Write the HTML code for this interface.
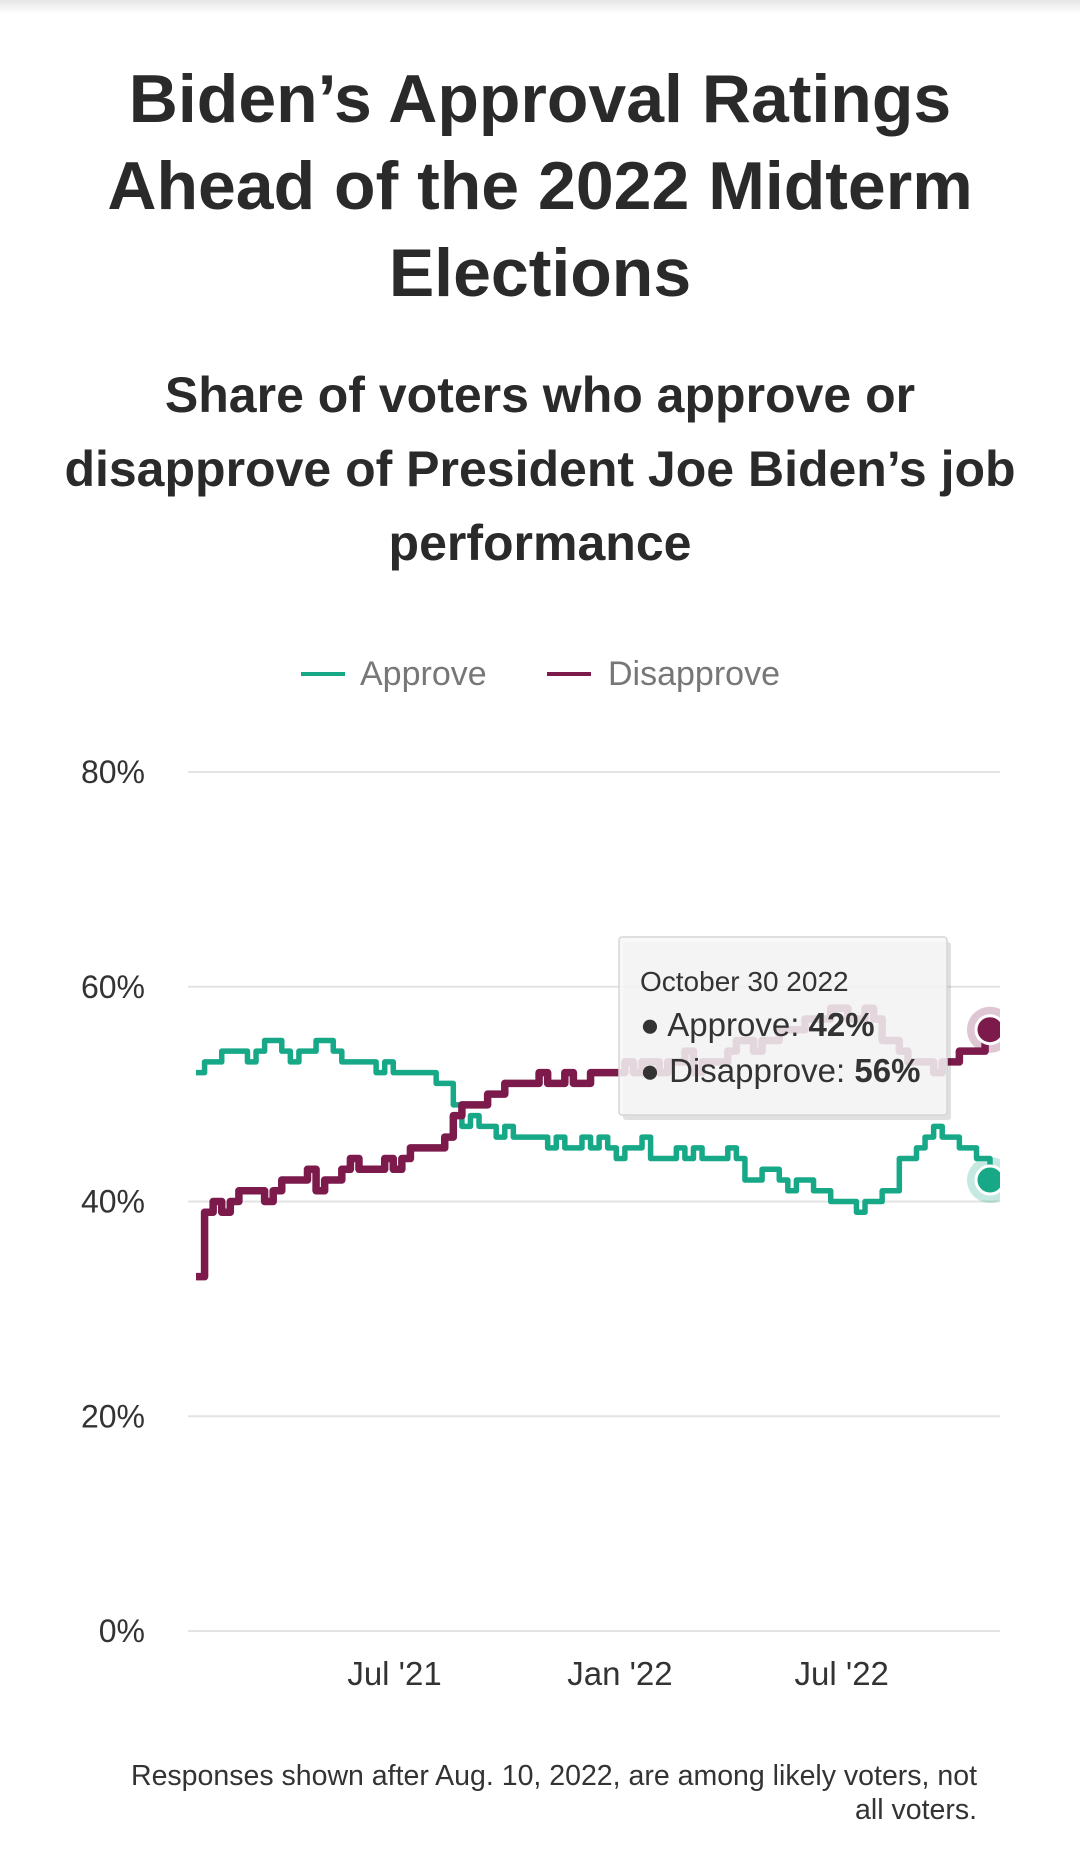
<!DOCTYPE html>
<html><head><meta charset="utf-8">
<style>
html,body{margin:0;padding:0;background:#fff;}
body{width:1080px;height:1853px;position:relative;overflow:hidden;font-family:"Liberation Sans",sans-serif;color:#2a2a2a;}
.topshade{position:absolute;left:0;top:0;width:1080px;height:14px;background:linear-gradient(#e6e6e6,#fff);}
h1{position:absolute;left:0;top:56px;width:1080px;margin:0;text-align:center;font-size:68px;line-height:87px;font-weight:bold;}
h2{position:absolute;left:0;top:358px;width:1080px;margin:0;text-align:center;font-size:50px;line-height:74px;font-weight:bold;}
.foot{position:absolute;right:103px;top:1759px;text-align:right;font-size:28.5px;line-height:34px;color:#333;}
svg{position:absolute;left:0;top:0;}
</style></head>
<body>
<div class="topshade"></div>
<h1>Biden’s Approval Ratings<br>Ahead of the 2022 Midterm<br>Elections</h1>
<h2>Share of voters who approve or<br>disapprove of President Joe Biden’s job<br>performance</h2>
<svg id="chart" width="1080" height="1853"></svg>
<div class="foot">Responses shown after Aug. 10, 2022, are among likely voters, not<br>all voters.</div>
<script>
const yTicks=[0,20,40,60,80];
const yTickLabels=["0%","20%","40%","60%","80%"];
const xTickDays=[162,346,527];
const xTickLabels=["Jul '21","Jan '22","Jul '22"];
const approve=[52,53,53,54,54,54,53,54,55,55,54,53,54,54,55,55,54,53,53,53,53,52,53,52,52,52,52,52,51,51,49,47,48,47,47,46,47,46,46,46,46,45,46,45,45,46,45,46,45,44,45,45,46,44,44,44,45,44,45,44,44,44,45,44,42,42,43,43,42,41,42,42,41,41,40,40,40,39,40,40,41,41,44,44,45,46,47,46,46,45,45,44,44,42];
const disapprove=[33,39,40,39,40,41,41,41,40,41,42,42,42,43,41,42,42,43,44,43,43,43,44,43,44,45,45,45,45,46,48,49,49,49,50,50,51,51,51,51,52,51,51,52,51,51,52,52,52,52,53,52,53,53,52,53,53,54,52,53,53,53,54,55,55,54,55,55,56,56,56,57,57,57,58,58,57,57,58,57,55,55,54,53,53,53,52,53,53,54,54,54,55,56];
const tipDate="October 30 2022";
const totalDays=648;

const NS="http://www.w3.org/2000/svg";
const svg=document.getElementById('chart');
const X0=196,X1=990,Y0=1631,Y80=772,GL=188,GR=1000;
function xs(d){return X0+(d/totalDays)*(X1-X0);}
function ys(v){return Y0-(v/80)*(Y0-Y80);}
function dayOf(i,n){return i===n-1?totalDays:Math.min(i*7,totalDays);}
function mk(tag,attrs){const e=document.createElementNS(NS,tag);for(const k in attrs)e.setAttribute(k,attrs[k]);svg.appendChild(e);return e;}

const defs=document.createElementNS(NS,'defs');
defs.innerHTML='<clipPath id="plotclip"><rect x="150" y="700" width="850" height="1000"/></clipPath>';
svg.appendChild(defs);

yTicks.forEach((t,i)=>{
  const g=mk('line',{x1:GL,x2:GR,y1:ys(t),y2:ys(t),stroke:'#e3e3e3','stroke-width':2});
  
  
  const tx=mk('text',{x:145,y:ys(t)+11,'text-anchor':'end','font-size':32,fill:'#333','font-family':'Liberation Sans, sans-serif'});
  tx.textContent=yTickLabels[i];
  
  
});
xTickDays.forEach((d,i)=>{
  const tx=mk('text',{x:xs(d),y:1685,'text-anchor':'middle','font-size':33,fill:'#333','font-family':'Liberation Sans, sans-serif'});
  tx.textContent=xTickLabels[i];
  
  
});

function stepPath(arr){
  let d='';
  arr.forEach((v,i)=>{
    const x=xs(dayOf(i,arr.length)),y=ys(v);
    if(i===0)d+='M'+x+' '+y;
    else d+=' H'+x+' V'+y;
  });
  return d;
}
const pa=mk('path',{d:stepPath(approve),fill:'none',stroke:'#17a987','stroke-width':5.5,'stroke-linejoin':'round','clip-path':'url(#plotclip)'});


const pd=mk('path',{d:stepPath(disapprove),fill:'none',stroke:'#7b1a4b','stroke-width':7.5,'stroke-linejoin':'round','clip-path':'url(#plotclip)'});



const ea=approve[approve.length-1],ed=disapprove[disapprove.length-1];
const g1=mk('g',{'clip-path':'url(#plotclip)'});


g1.innerHTML=`<circle cx="${xs(totalDays)}" cy="${ys(ea)}" r="23" fill="#17a987" opacity="0.25"/><circle cx="${xs(totalDays)}" cy="${ys(ea)}" r="14" fill="#17a987" stroke="#fff" stroke-width="3"/>`;
svg.appendChild(g1);
const g2=mk('g',{'clip-path':'url(#plotclip)'});


g2.innerHTML=`<circle cx="${xs(totalDays)}" cy="${ys(ed)}" r="23" fill="#7b1a4b" opacity="0.25"/><circle cx="${xs(totalDays)}" cy="${ys(ed)}" r="14" fill="#7b1a4b" stroke="#fff" stroke-width="3"/>`;
svg.appendChild(g2);

const lg=mk('g',{});


lg.innerHTML=`<g><line x1="301" x2="345" y1="674" y2="674" stroke="#17a987" stroke-width="4"/><text x="360" y="685" font-size="34" fill="#777" font-family="Liberation Sans, sans-serif">Approve</text></g>
<g><line x1="547" x2="591" y1="674" y2="674" stroke="#7b1a4b" stroke-width="4"/><text x="608" y="685" font-size="34" fill="#777" font-family="Liberation Sans, sans-serif">Disapprove</text></g>`;
svg.appendChild(lg);

const tg=mk('g',{});


tg.innerHTML=`<rect x="621" y="939" width="328" height="178" rx="3" fill="#000" opacity="0.12" transform="translate(2,3)"/>
<rect x="619" y="937" width="328" height="178" rx="3" fill="rgba(247,247,247,0.86)" stroke="#d6d6d6" stroke-width="1.5"/>
<text x="640" y="991" font-size="28" fill="#333" font-family="Liberation Sans, sans-serif">${tipDate}</text>
<text x="640" y="1036" font-size="33" fill="#333" font-family="Liberation Sans, sans-serif">● Approve: <tspan font-weight="bold">${ea}%</tspan></text>
<text x="640" y="1082" font-size="33" fill="#333" font-family="Liberation Sans, sans-serif">● Disapprove: <tspan font-weight="bold">${ed}%</tspan></text>`;
svg.appendChild(tg);
</script>
</body></html>
